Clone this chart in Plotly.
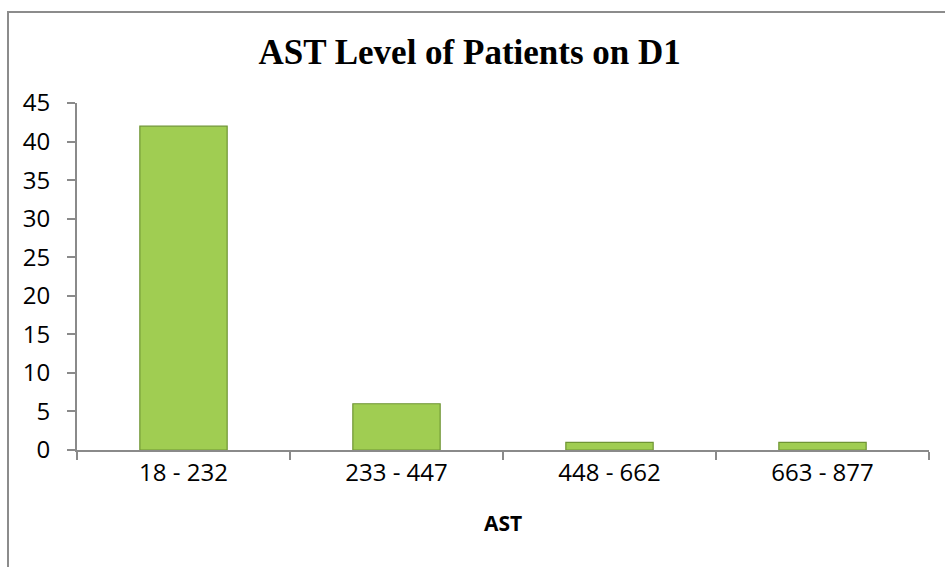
import plotly.graph_objects as go

# AST ranges (U/L) and patient counts on day 1
ast_ranges = ["18 - 232", "233 - 447", "448 - 662", "663 - 877"]
patients = [42, 6, 1, 1]
y_ticks = [0, 5, 10, 15, 20, 25, 30, 35, 40, 45]

W, H = 945, 567
L, R, T, B = 77, 16, 103, 117
plot_w = W - L - R
plot_h = H - T - B

fig = go.Figure()
fig.add_trace(go.Bar(
    x=ast_ranges,
    y=patients,
    marker=dict(color="#A0CD52", line=dict(color="#6F9534", width=1.2)),
    width=0.41,
    hoverinfo="x+y",
))

axis_col = "#8A8A8A"
fig.update_layout(
    width=W, height=H,
    margin=dict(l=L, r=R, t=T, b=B, pad=0),
    paper_bgcolor="white", plot_bgcolor="white",
    showlegend=False,
    title=dict(
        text="<b>AST Level of Patients on D1</b>",
        font=dict(family="Liberation Serif", size=35, color="black"),
        x=0.497, xanchor="center", y=1 - 52 / H, yanchor="middle",
    ),
    xaxis=dict(
        showline=True, linecolor=axis_col, linewidth=2,
        ticks="outside", tickson="boundaries", ticklen=8, tickcolor=axis_col, tickwidth=1.5,
        tickfont=dict(family="Open Sans", size=24, color="black"),
        title=dict(text="<b>AST</b>", font=dict(family="Open Sans", size=21, color="black"), standoff=30),
        showgrid=False,
    ),
    yaxis=dict(
        range=[0, 45], tickvals=y_ticks,
        showline=True, linecolor=axis_col, linewidth=2,
        ticks="outside", ticklen=8, tickcolor=axis_col, tickwidth=1.5,
        tickfont=dict(family="Open Sans", size=24, color="black"),
        ticklabelstandoff=12,
        showgrid=False, zeroline=False,
    ),
)

# Chart frame around the whole figure
fig.add_shape(
    type="rect", xref="paper", yref="paper",
    x0=(8 - L) / plot_w, x1=1.2,
    y0=-0.6, y1=(H - B - 12) / plot_h,
    line=dict(color="#8C8C8C", width=2), fillcolor="rgba(0,0,0,0)", layer="below",
)

fig.write_html("out.html")
